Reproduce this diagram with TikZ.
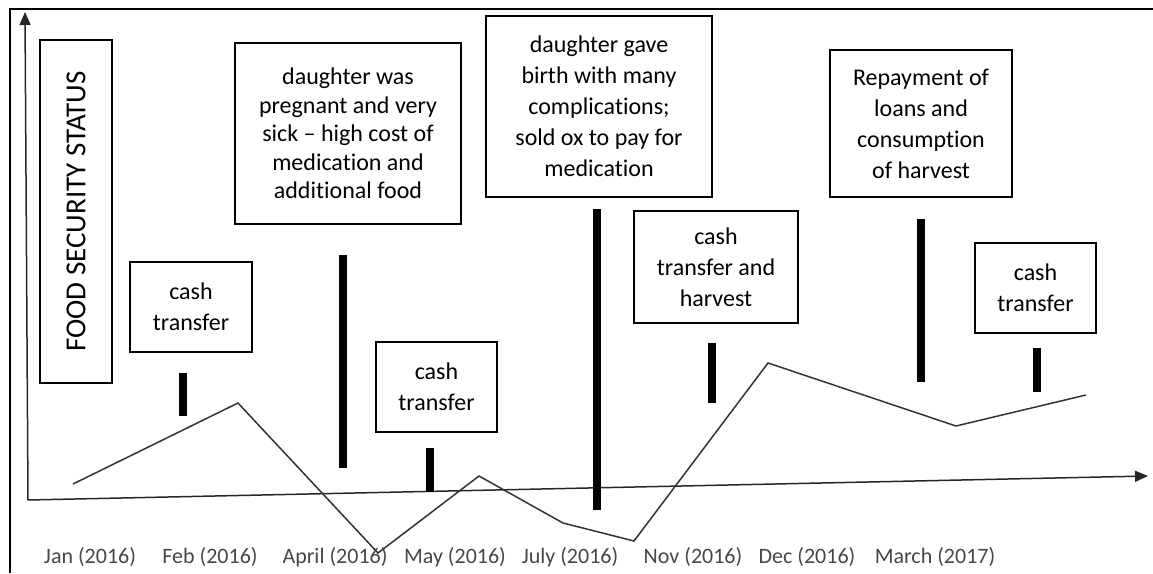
\documentclass[tikz,border=0pt]{standalone}
\usepackage{fontspec}
\setmainfont{Carlito}[Ligatures=NoCommon]
\usetikzlibrary{arrows.meta}
\begin{document}
\begin{tikzpicture}[x=1pt,y=-1pt,
  evbox/.style={draw=black, line width=1.1pt, align=center, inner sep=0pt,
    font=\fontsize{24}{31}\selectfont},
  barline/.style={line width=8pt},
  axisline/.style={line width=1.5pt, draw=black!85, -{Triangle[length=13pt,width=11pt]}},
  month/.style={font=\fontsize{22}{26}\selectfont, text=black!72},
  fsline/.style={line width=1.5pt, draw=black!80}
]
\useasboundingbox (0,0) rectangle (1153,573);
% outer frame
\draw[line width=1.6pt] (10,573) -- (10,9) -- (1153,9);

% axes
\coordinate (O) at (28,500);
\coordinate (Ytop) at (25,12);
\coordinate (Xend) at (1148,476);
\draw[axisline] (O) -- (Ytop);
\draw[axisline] (O) -- (Xend);

% title box
\node[draw=black, line width=1.1pt, rotate=90, minimum width=343pt, minimum height=72pt,
  inner sep=0pt, font=\fontsize{29}{34}\selectfont] (fss) at (76,211.5) {FOOD SECURITY STATUS};

% event boxes
\node[evbox, minimum width=122pt, minimum height=90pt] (b1) at (191,307) {cash\\transfer};
\node[evbox, minimum width=226pt, minimum height=181pt,
  font=\fontsize{24}{28.5}\selectfont] (b2) at (348,133.5)
  {daughter was\\pregnant and very\\sick -- high cost of\\medication and\\additional food};
\node[evbox, minimum width=226pt, minimum height=181pt] (b3) at (599,106.5)
  {daughter gave\\birth with many\\complications;\\sold ox to pay for\\medication};
\node[evbox, minimum width=121pt, minimum height=90pt] (b4) at (436.5,387) {cash\\transfer};
\node[evbox, minimum width=164pt, minimum height=112pt] (b5) at (716,267) {cash\\transfer and\\harvest};
\node[evbox, minimum width=182pt, minimum height=147pt] (b6) at (921,123.5)
  {Repayment of\\loans and\\consumption\\of harvest};
\node[evbox, minimum width=121pt, minimum height=90pt] (b7) at (1035.5,288) {cash\\transfer};

% event bars
\draw[barline] (183,373) -- (183,416);
\draw[barline] (343,255) -- (343,468);
\draw[barline] (430,448) -- (430,492);
\draw[barline] (597,209) -- (597,510);
\draw[barline] (712,343) -- (712,403);
\draw[barline] (921,219) -- (921,382);
\draw[barline] (1037,348) -- (1037,392);

% food security line
\coordinate (p1) at (73,484);
\coordinate (p2) at (238,403);
\coordinate (p3) at (378,553);
\coordinate (p4) at (479,476);
\coordinate (p5) at (563,523);
\coordinate (p6) at (634,541);
\coordinate (p7) at (768,363);
\coordinate (p8) at (956,426);
\coordinate (p9) at (1086,395);
\draw[fsline] (p1) -- (p2) -- (p3) -- (p4) -- (p5) -- (p6) -- (p7) -- (p8) -- (p9);

% month labels
\node[month] (m1) at (90,557) {Jan (2016)};
\node[month] (m2) at (210,557) {Feb (2016)};
\node[month] (m3) at (335,557) {April (2016)};
\node[month] (m4) at (455,557) {May (2016)};
\node[month] (m5) at (570,557) {July (2016)};
\node[month] (m6) at (693,557) {Nov (2016)};
\node[month] (m7) at (807,557) {Dec (2016)};
\node[month] (m8) at (935,557) {March (2017)};
\end{tikzpicture}
\end{document}
